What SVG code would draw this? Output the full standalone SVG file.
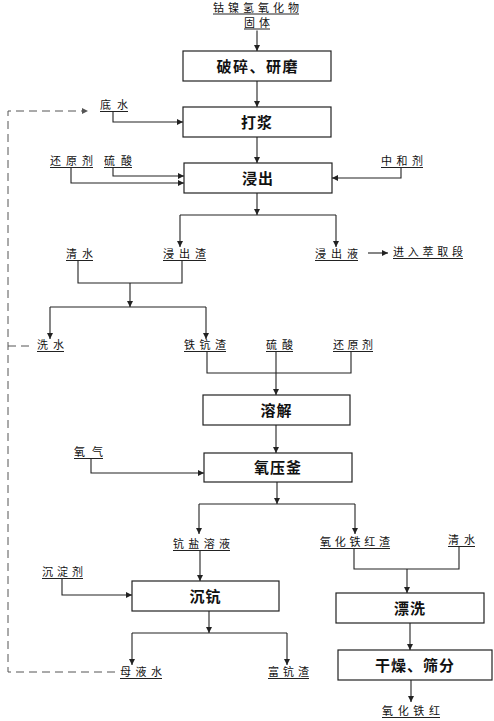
<svg xmlns="http://www.w3.org/2000/svg" width="494" height="721" viewBox="0 0 494 721">
<defs>
<marker id="arr" markerWidth="6" markerHeight="6" refX="6" refY="3" orient="auto" markerUnits="userSpaceOnUse">
<path d="M0,0 L6,3 L0,6 z" fill="#222"/>
</marker>
</defs>
<style>
.box{fill:#fff;stroke:#222;stroke-width:1.2}
.bt{font-family:"Noto Sans CJK SC","Noto Sans CJK JP",sans-serif;font-size:15px;font-weight:bold;fill:#111;text-anchor:middle}
.lb{font-family:"Noto Sans CJK SC","Noto Sans CJK JP",sans-serif;font-size:11px;fill:#111}
.ul{stroke:#222;stroke-width:1}
.c{fill:none;stroke:#222;stroke-width:1.1}
.a{marker-end:url(#arr)}
.d{fill:none;stroke:#555;stroke-width:1;stroke-dasharray:8,5}
</style>
<rect width="494" height="721" fill="#fff"/>

<g id="connectors">
<path class="c a" d="M257,30.5 V51"/>
<path class="c a" d="M257,81 V107"/>
<path class="c a" d="M257,137 V163"/>
<path class="c a" d="M113,112 V122 H183"/>
<path class="c a" d="M71,168 V183 H184"/>
<path class="c a" d="M113,168 V176 H184"/>
<path class="c a" d="M401,168 V178 H332"/>
<path class="c a" d="M257,193 V215"/>
<path class="c" d="M180,215 H336"/>
<path class="c a" d="M180,215 V247"/>
<path class="c a" d="M336,215 V247"/>
<path class="c a" d="M368,253 H388"/>
<path class="c" d="M78,261 V283 H182 V261"/>
<path class="c a" d="M130,283 V307"/>
<path class="c" d="M50,307 H206"/>
<path class="c a" d="M50,307 V339"/>
<path class="c a" d="M206,307 V339"/>
<path class="c" d="M207,352 V373 H351 V352"/>
<path class="c a" d="M276,352 V395"/>
<path class="c a" d="M276,425 V453"/>
<path class="c a" d="M91,459 V473 H204"/>
<path class="c a" d="M277,482 V504"/>
<path class="c" d="M199,504 H355"/>
<path class="c a" d="M199,504 V534"/>
<path class="c a" d="M355,504 V534"/>
<path class="c a" d="M200,551 V581"/>
<path class="c a" d="M62,579 V595 H132"/>
<path class="c" d="M354,549 V569 H459 V547"/>
<path class="c a" d="M407,569 V593"/>
<path class="c a" d="M410,623 V650"/>
<path class="c a" d="M411,680 V702"/>
<path class="c a" d="M209,611 V633"/>
<path class="c" d="M132,633 H287"/>
<path class="c a" d="M132,633 V665"/>
<path class="c a" d="M287,633 V665"/>
<path class="d" d="M115,672 H8 V111 H82"/>
<path d="M82,108 L88,111 L82,114 z" fill="#555"/>
<path class="d" d="M8,346 H30"/>
</g>

<g id="feed">
<text class="lb" x="213" y="12" font-size="9.5" textLength="86" lengthAdjust="spacing">钴镍氢氧化物</text>
<line class="ul" x1="213" y1="14" x2="299" y2="14"/>
<text class="lb" x="244" y="27" font-size="9.5" textLength="26" lengthAdjust="spacing">固体</text>
<line class="ul" x1="244" y1="29" x2="270" y2="29"/>
</g>

<g id="b1"><rect class="box" x="183" y="51" width="148" height="30"/><text class="bt" x="257" y="71.5" textLength="81" lengthAdjust="spacing">破碎、研磨</text></g>
<g id="b2"><rect class="box" x="183" y="107" width="148" height="30"/><text class="bt" x="257" y="127.5" letter-spacing="1">打浆</text></g>
<g id="b3"><rect class="box" x="184" y="163" width="148" height="30"/><text class="bt" x="258" y="183.5" letter-spacing="1">浸出</text></g>
<g id="b4"><rect class="box" x="203" y="395" width="147" height="30"/><text class="bt" x="276.5" y="415.5" letter-spacing="1">溶解</text></g>
<g id="b5"><rect class="box" x="204" y="453" width="148" height="29"/><text class="bt" x="278" y="473" letter-spacing="1">氧压釜</text></g>
<g id="b6"><rect class="box" x="132" y="581" width="147" height="30"/><text class="bt" x="205.5" y="601.5" letter-spacing="1">沉钪</text></g>
<g id="b7"><rect class="box" x="336" y="593" width="148" height="30"/><text class="bt" x="410" y="613.5" letter-spacing="1">漂洗</text></g>
<g id="b8"><rect class="box" x="338" y="650" width="154" height="30"/><text class="bt" x="415" y="670.5" letter-spacing="1">干燥、筛分</text></g>

<g id="l-dishui"><text class="lb" x="100" y="109" textLength="28" lengthAdjust="spacing">底水</text><line class="ul" x1="100" y1="111.5" x2="128" y2="111.5"/></g>
<g id="l-huanyuan1"><text class="lb" x="50" y="165" textLength="43" lengthAdjust="spacing">还原剂</text><line class="ul" x1="50" y1="167.5" x2="93" y2="167.5"/></g>
<g id="l-liusuan1"><text class="lb" x="104" y="165" textLength="28" lengthAdjust="spacing">硫酸</text><line class="ul" x1="104" y1="167.5" x2="132" y2="167.5"/></g>
<g id="l-zhonghe"><text class="lb" x="381" y="165" textLength="42" lengthAdjust="spacing">中和剂</text><line class="ul" x1="381" y1="167.5" x2="423" y2="167.5"/></g>
<g id="l-qingshui1"><text class="lb" x="66" y="258" textLength="27" lengthAdjust="spacing">清水</text><line class="ul" x1="66" y1="260.5" x2="93" y2="260.5"/></g>
<g id="l-jinchuzha"><text class="lb" x="163" y="258" textLength="43" lengthAdjust="spacing">浸出渣</text><line class="ul" x1="163" y1="260.5" x2="206" y2="260.5"/></g>
<g id="l-jinchuye"><text class="lb" x="315" y="258" textLength="43" lengthAdjust="spacing">浸出液</text><line class="ul" x1="315" y1="260.5" x2="358" y2="260.5"/></g>
<g id="l-cuiqu"><text class="lb" x="393" y="256" textLength="70" lengthAdjust="spacing">进入萃取段</text><line class="ul" x1="393" y1="258.5" x2="463" y2="258.5"/></g>
<g id="l-xishui"><text class="lb" x="37" y="349" textLength="27" lengthAdjust="spacing">洗水</text><line class="ul" x1="37" y1="351.5" x2="64" y2="351.5"/></g>
<g id="l-tiekangzha"><text class="lb" x="184" y="349" textLength="42" lengthAdjust="spacing">铁钪渣</text><line class="ul" x1="184" y1="351.5" x2="226" y2="351.5"/></g>
<g id="l-liusuan2"><text class="lb" x="266" y="349" textLength="27" lengthAdjust="spacing">硫酸</text><line class="ul" x1="266" y1="351.5" x2="293" y2="351.5"/></g>
<g id="l-huanyuan2"><text class="lb" x="333" y="349" textLength="40" lengthAdjust="spacing">还原剂</text><line class="ul" x1="333" y1="351.5" x2="373" y2="351.5"/></g>
<g id="l-yangqi"><text class="lb" x="74" y="456" textLength="29" lengthAdjust="spacing">氧气</text><line class="ul" x1="74" y1="458.5" x2="103" y2="458.5"/></g>
<g id="l-kangyan"><text class="lb" x="173" y="548" textLength="57" lengthAdjust="spacing">钪盐溶液</text><line class="ul" x1="173" y1="550.5" x2="230" y2="550.5"/></g>
<g id="l-tiehongzha"><text class="lb" x="320" y="546" textLength="70" lengthAdjust="spacing">氧化铁红渣</text><line class="ul" x1="320" y1="548.5" x2="390" y2="548.5"/></g>
<g id="l-qingshui2"><text class="lb" x="448" y="544" textLength="27" lengthAdjust="spacing">清水</text><line class="ul" x1="448" y1="546.5" x2="475" y2="546.5"/></g>
<g id="l-chendian"><text class="lb" x="42" y="576" textLength="41" lengthAdjust="spacing">沉淀剂</text><line class="ul" x1="42" y1="578.5" x2="83" y2="578.5"/></g>
<g id="l-muye"><text class="lb" x="120" y="676" textLength="42" lengthAdjust="spacing">母液水</text><line class="ul" x1="120" y1="678.5" x2="162" y2="678.5"/></g>
<g id="l-fukang"><text class="lb" x="268" y="676" textLength="41" lengthAdjust="spacing">富钪渣</text><line class="ul" x1="268" y1="678.5" x2="309" y2="678.5"/></g>
<g id="l-tiehong"><text class="lb" x="382" y="715" textLength="58" lengthAdjust="spacing">氧化铁红</text><line class="ul" x1="382" y1="717.5" x2="440" y2="717.5"/></g>
</svg>
